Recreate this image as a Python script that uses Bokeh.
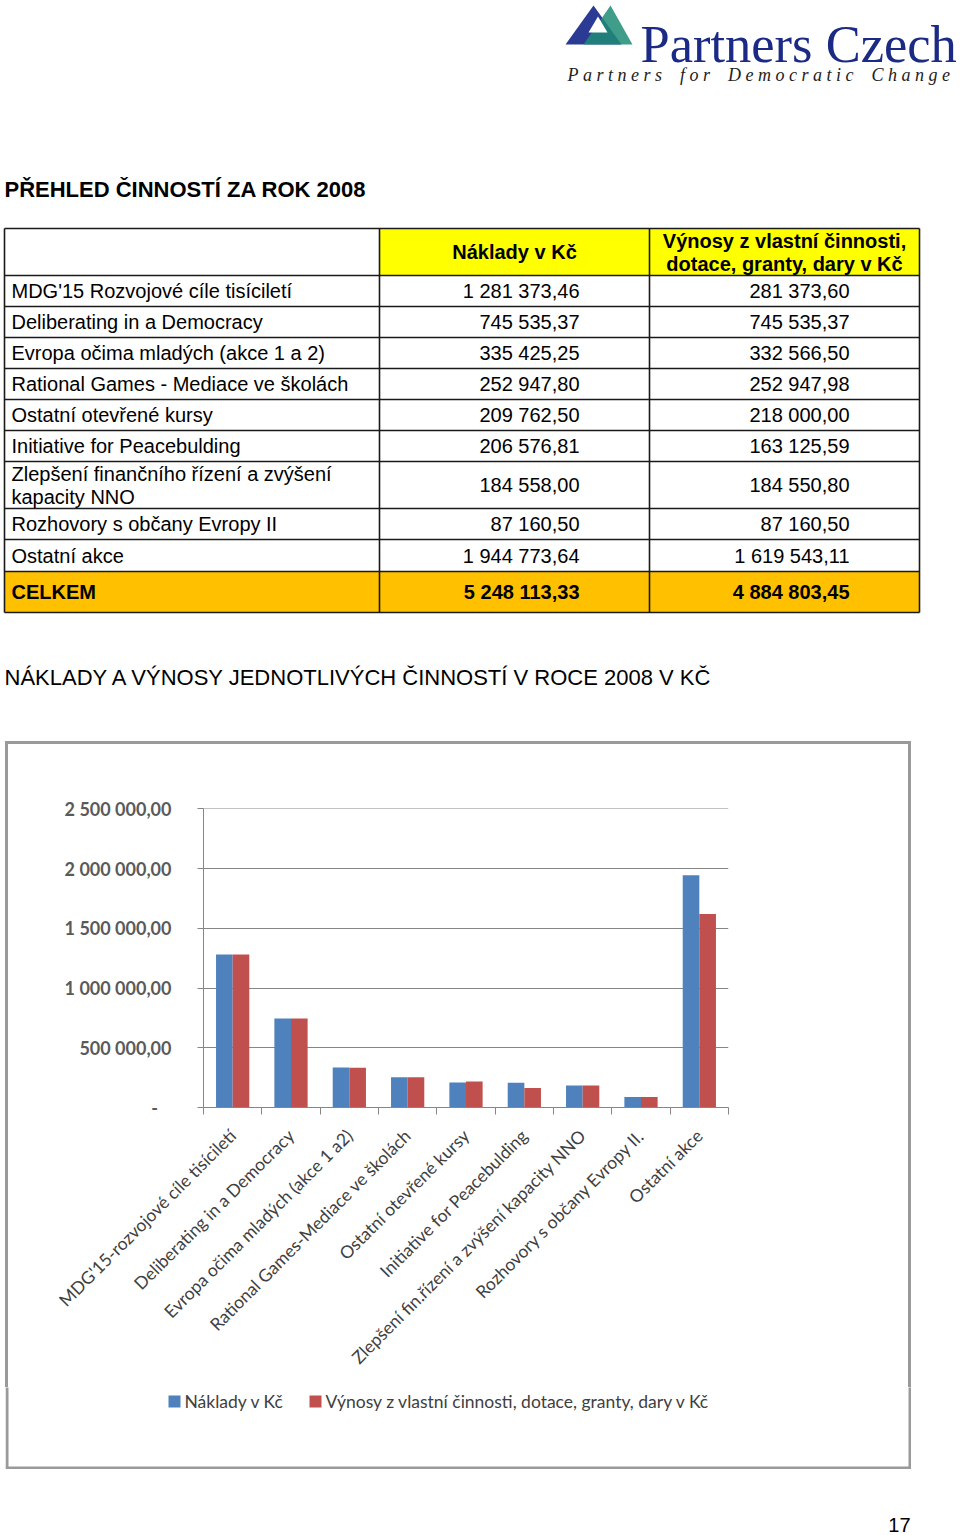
import math
from bokeh.plotting import figure
from bokeh.models import (ColumnDataSource, Range1d, FixedTicker, CustomJSTickFormatter)
from bokeh.transform import dodge
from bokeh.core.properties import value
from bokeh.embed import file_html
from bokeh.resources import INLINE

# ---------------- data ----------------
logo_name = "Partners Czech"
logo_tagline = "Partners for Democratic Change"
table_title = "PŘEHLED ČINNOSTÍ ZA ROK 2008"
chart_title = "NÁKLADY A VÝNOSY JEDNOTLIVÝCH ČINNOSTÍ V ROCE 2008 V KČ"
col_headers = ["Náklady v Kč", "Výnosy z vlastní činnosti,\ndotace, granty, dary v Kč"]
table_rows = ["MDG'15 Rozvojové cíle tisíciletí",
              "Deliberating in a Democracy",
              "Evropa očima mladých (akce 1 a 2)",
              "Rational Games - Mediace ve školách",
              "Ostatní otevřené kursy",
              "Initiative for Peacebulding",
              "Zlepšení finančního řízení a zvýšení\nkapacity NNO",
              "Rozhovory s občany Evropy II",
              "Ostatní akce"]
table_costs = ["1 281 373,46", "745 535,37", "335 425,25", "252 947,80", "209 762,50",
               "206 576,81", "184 558,00", "87 160,50", "1 944 773,64"]
table_income = ["281 373,60", "745 535,37", "332 566,50", "252 947,98", "218 000,00",
                "163 125,59", "184 550,80", "87 160,50", "1 619 543,11"]
total_label = "CELKEM"
total_costs = "5 248 113,33"
total_income = "4 884 803,45"

chart_categories = ["MDG'15-rozvojové cíle tisíciletí",
                    "Deliberating in a Democracy",
                    "Evropa očima mladých (akce 1 a2)",
                    "Rational Games-Mediace ve školách",
                    "Ostatní otevřené kursy",
                    "Initiative for Peacebulding",
                    "Zlepšení fin.řízení a zvýšení kapacity NNO",
                    "Rozhovory s občany Evropy II.",
                    "Ostatní akce"]
costs = [1281373.46, 745535.37, 335425.25, 252947.80, 209762.50,
         206576.81, 184558.00, 87160.50, 1944773.64]
income = [1281373.60, 745535.37, 332566.50, 252947.98, 218000.00,
          163125.59, 184550.80, 87160.50, 1619543.11]
series_names = ["Náklady v Kč", "Výnosy z vlastní činnosti, dotace, granty, dary v Kč"]
y_ticks = [0, 500000, 1000000, 1500000, 2000000, 2500000]
page_number = "17"

# ---------------- styles ----------------
SANS = "Liberation Sans"
SERIF = "Liberation Serif"
CAL = "Lato"
BLUE = "#4F81BD"
RED = "#C0504D"
series_colors = [BLUE, RED]
GRAYLINE = "#868686"
BOXGRAY = "#9A9A9A"
LABEL = "#404040"


def canvas_fig(w, h, x0, y0, **kw):
    f = figure(width=w, height=h, x_range=Range1d(x0, x0 + w), y_range=Range1d(y0 + h, y0),
               output_backend="svg", toolbar_location=None, min_border=0,
               x_axis_location=None, y_axis_location=None, **kw)
    f.title = None
    f.grid.visible = False
    f.outline_line_color = None
    return f


# ---------------- top part: logo, titles, table ----------------
top = canvas_fig(960, 741, 0, 0)

top.patches(xs=[[565, 593, 621], [583, 610, 632]], ys=[[44, 5, 44], [44, 5, 44]],
            fill_color=["#2B3A92", "#1F8C76"], fill_alpha=[1, 0.85], line_color=None)
top.patch(x=[588, 597.5, 607], y=[32, 16, 32], fill_color="white", line_color=None)
top.text(x=[640], y=[43], text=[logo_name], text_font=value(SERIF), text_font_size="52.5px",
         text_color="#1B2B85", text_baseline="alphabetic", text_align="left")
spaced = "\u00a0\u00a0\u00a0\u00a0".join("\u00a0".join(list(w)) for w in logo_tagline.split(" "))
top.text(x=[567], y=[74], text=[spaced], text_font=value(SERIF), text_font_size="18px",
         text_font_style="italic", text_color="#222222", text_baseline="alphabetic")

top.text(x=[4], y=[189], text=[table_title], text_font=value(SANS), text_font_size="22px",
         text_font_style="bold", text_color="black", text_baseline="middle")
top.text(x=[4], y=[677], text=[chart_title], text_font=value(SANS), text_font_size="22px",
         text_color="black", text_baseline="middle")

X0, X1, X2, X3 = 4, 379, 649, 919
head_top, head_bot = 228, 275
row_h = [31, 31, 31, 31, 31, 31, 47, 31, 32]
edges = [head_bot]
for h in row_h:
    edges.append(edges[-1] + h)
total_bot = edges[-1] + 41

top.quad(left=[X1], right=[X3], top=[head_top], bottom=[head_bot], fill_color="#FFFF00", line_color=None)
top.quad(left=[X0], right=[X3], top=[edges[-1]], bottom=[total_bot], fill_color="#FFC000", line_color=None)

hy = [head_top] + edges + [total_bot]
top.segment(x0=[X0] * len(hy), x1=[X3] * len(hy), y0=hy, y1=hy, line_color="#1a1a1a", line_width=1.6)
top.segment(x0=[X0, X1, X2, X3], x1=[X0, X1, X2, X3], y0=[head_top] * 4, y1=[total_bot] * 4,
            line_color="#1a1a1a", line_width=1.6)

hx, hyy, ht = [], [], []
for cx, txt in zip([(X1 + X2) / 2, (X2 + X3) / 2], col_headers):
    lines = txt.split("\n")
    mid = (head_top + head_bot) / 2
    for k, ln in enumerate(lines):
        hx.append(cx)
        hyy.append(mid + (k - (len(lines) - 1) / 2) * 23)
        ht.append(ln)
top.text(x=hx, y=hyy, text=ht, text_font=value(SANS), text_font_size="20px", text_font_style="bold",
         text_color="black", text_align="center", text_baseline="middle")

lx, ly, lt = [], [], []
vy = []
for i, name in enumerate(table_rows):
    mid = (edges[i] + edges[i + 1]) / 2
    lines = name.split("\n")
    for k, ln in enumerate(lines):
        lx.append(11)
        ly.append(mid + (k - (len(lines) - 1) / 2) * 23)
        lt.append(ln)
    vy.append(mid)
top.text(x=lx, y=ly, text=lt, text_font=value(SANS), text_font_size="20px", text_color="black",
         text_baseline="middle")
top.text(x=[579] * len(vy), y=vy, text=table_costs, text_font=value(SANS), text_font_size="20px",
         text_color="black", text_baseline="middle", text_align="right")
top.text(x=[849] * len(vy), y=vy, text=table_income, text_font=value(SANS), text_font_size="20px",
         text_color="black", text_baseline="middle", text_align="right")
tmid = (edges[-1] + total_bot) / 2
top.text(x=[11, 579, 849], y=[tmid] * 3, text=[total_label, total_costs, total_income],
         text_font=value(SANS), text_font_size="20px", text_font_style="bold", text_color="black",
         text_baseline="middle", text_align=["left", "right", "right"])

# ---------------- chart ----------------
n = len(chart_categories)
xc = [i + 0.5 for i in range(n)]
src = ColumnDataSource(dict(x=xc, costs=costs, income=income))

MB = 280
chart = figure(frame_width=525, frame_height=299, x_range=Range1d(0, n),
               y_range=Range1d(0, y_ticks[-1] * 1.001),
               output_backend="svg", toolbar_location=None,
               min_border_left=198, min_border_right=183, min_border_top=67, min_border_bottom=MB,
               margin=(0, 0, 0, 5), border_fill_alpha=0)
chart.title = None
chart.styles = {"box-shadow": f"inset 3px 3px 0 0 {BOXGRAY}, inset -3px 0 0 0 {BOXGRAY}"}
chart.outline_line_color = None
bw = 0.285
chart.vbar(x=dodge("x", -bw / 2), top="costs", width=bw, source=src, fill_color=BLUE, line_color=None)
chart.vbar(x=dodge("x", bw / 2), top="income", width=bw, source=src, fill_color=RED, line_color=None)

yt = FixedTicker(ticks=y_ticks)
chart.yaxis.ticker = yt
chart.ygrid.ticker = yt
chart.yaxis.formatter = CustomJSTickFormatter(code="""
    if (tick == 0) { return "-\u2003"; }
    const s = Math.round(tick).toString().replace(/\\B(?=(\\d{3})+(?!\\d))/g, " ");
    return s + ",00";
""")
chart.yaxis.axis_line_color = GRAYLINE
chart.yaxis.major_tick_line_color = GRAYLINE
chart.yaxis.major_tick_out = 6
chart.yaxis.major_tick_in = 0
chart.yaxis.minor_tick_line_color = None
chart.yaxis.major_label_standoff = 26
chart.yaxis.major_label_text_font = CAL
chart.yaxis.major_label_text_font_size = "18px"
chart.yaxis.major_label_text_font_style = "bold"
chart.yaxis.major_label_text_color = "#5a5a5a"
chart.ygrid.grid_line_color = GRAYLINE
chart.xgrid.visible = False

chart.xaxis.ticker = FixedTicker(ticks=xc, minor_ticks=list(range(n + 1)))
chart.xaxis.formatter = CustomJSTickFormatter(args=dict(names=chart_categories),
                                              code="return names[Math.floor(tick)];")
chart.xaxis.major_label_orientation = math.pi / 4
chart.xaxis.major_tick_line_color = None
chart.xaxis.minor_tick_line_color = GRAYLINE
chart.xaxis.minor_tick_out = 7
chart.xaxis.minor_tick_in = 0
chart.xaxis.axis_line_color = GRAYLINE
chart.xaxis.major_label_text_font = CAL
chart.xaxis.major_label_text_font_size = "17.5px"
chart.xaxis.major_label_text_color = LABEL
chart.xaxis.major_label_standoff = 18

# ---------------- legend strip (inside the chart box) ----------------
LEG_TOP = 741 + 67 + 299 + MB
legfig = canvas_fig(906, 1469 - LEG_TOP, 5, LEG_TOP, margin=(0, 0, 0, 5))
legfig.segment(x0=[6.5, 909.5, 5], x1=[6.5, 909.5, 911], y0=[LEG_TOP - 2, LEG_TOP - 2, 1467.5],
               y1=[1467.5, 1467.5, 1467.5], line_color=BOXGRAY, line_width=3)
leg_x = [168, 309]
leg_y = 1401
legfig.rect(x=[x + 6 for x in leg_x], y=[leg_y] * 2, width=12, height=12,
            fill_color=series_colors, line_color=None)
legfig.text(x=[x + 16 for x in leg_x], y=[leg_y] * 2, text=series_names, text_font=value(CAL),
            text_font_size="17.5px", text_color=LABEL, text_baseline="middle")

# ---------------- footer ----------------
foot = canvas_fig(960, 66, 0, 1469)
foot.text(x=[910], y=[1524], text=[page_number], text_font=value(SANS), text_font_size="20px",
          text_color="black", text_align="right", text_baseline="middle")

open("out.html", "w").write(file_html([top, chart, legfig, foot], INLINE))
